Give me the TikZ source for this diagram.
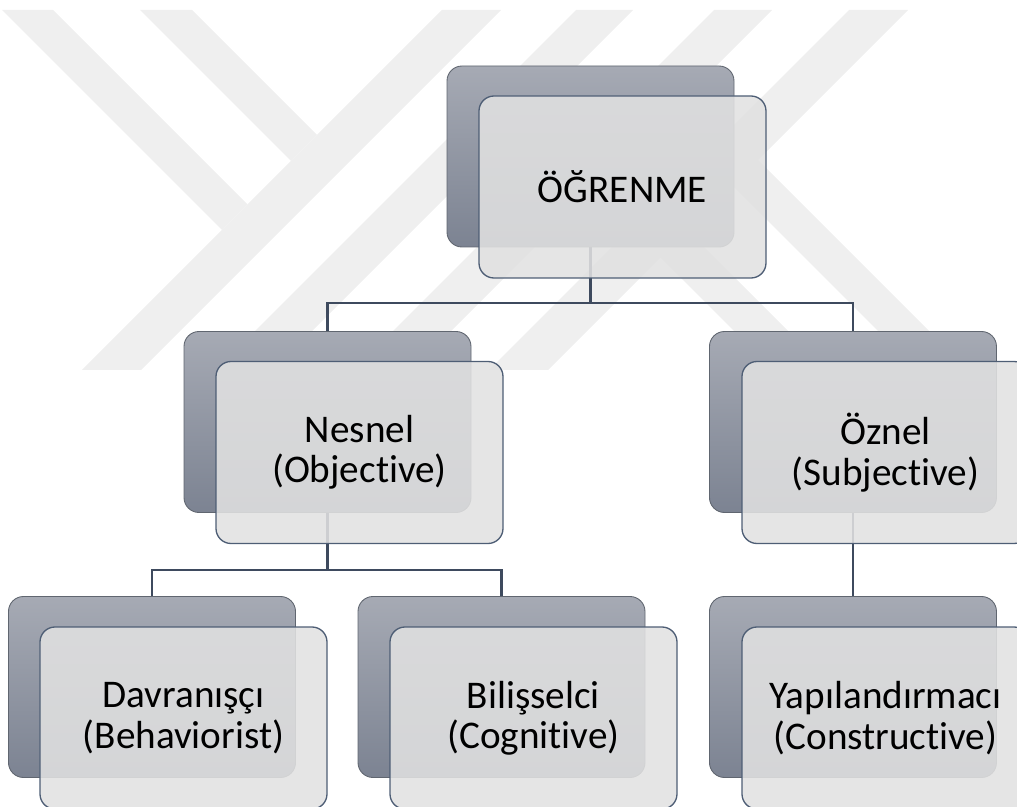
\documentclass[tikz,border=0pt]{standalone}
\usepackage{fontspec}
\setmainfont[Ligatures={NoCommon}]{Carlito}
\usetikzlibrary{backgrounds}
\definecolor{boxtop}{RGB}{166,170,180}
\definecolor{boxbottom}{RGB}{124,131,146}
\definecolor{boxedge}{RGB}{96,102,112}
\definecolor{frontfill}{RGB}{225,225,225}
\definecolor{frontedge}{RGB}{78,94,117}
\definecolor{linkcol}{RGB}{62,74,94}
\definecolor{wmark}{RGB}{239,239,239}
\begin{document}
\begin{tikzpicture}[
    backbox/.style={rectangle,rounded corners=0.3cm,minimum width=5.74cm,minimum height=3.62cm,inner sep=0pt,top color=boxtop,bottom color=boxbottom,draw=boxedge,line width=0.5pt},
    frontbox/.style={rectangle,rounded corners=0.3cm,minimum width=5.74cm,minimum height=3.64cm,inner sep=0pt,fill=frontfill,fill opacity=0.88,text opacity=1,draw=frontedge,draw opacity=1,line width=0.75pt,align=center,font=\fontsize{22.3}{23}\selectfont},
    link/.style={draw=linkcol,line width=1.15pt}
]
            \useasboundingbox (0,0) rectangle (20.34,-16.14);
            \clip (0,0) rectangle (20.34,-16.14);
            \node[backbox] (ogrb) at (11.81,-3.13) {};
            \node[frontbox] (ogr) at (12.45,-3.74) {ÖĞRENME};
            \node[backbox] (nesb) at (6.55,-8.44) {};
            \node[frontbox] (nes) at (7.19,-9.05) {Nesnel\\(Objective)};
            \node[backbox] (ozb) at (17.06,-8.44) {};
            \node[frontbox] (oz) at (17.71,-9.05) {Öznel\\(Subjective)};
            \node[backbox] (davb) at (3.04,-13.74) {};
            \node[frontbox] (dav) at (3.67,-14.36) {Davranışçı\\(Behaviorist)};
            \node[backbox] (bilb) at (10.03,-13.74) {};
            \node[frontbox] (bil) at (10.67,-14.36) {Bilişselci\\(Cognitive)};
            \node[backbox] (yapb) at (17.06,-13.74) {};
            \node[frontbox] (yap) at (17.71,-14.36) {Yapılandırmacı\\(Constructive)};
            \begin{scope}[on background layer]
                \fill[wmark] (0.04,-0.2) -- (1.06,-0.2) -- (4.95,-4.09) -- (4.44,-4.6) -- cycle;
                \fill[wmark] (2.8,-0.2) -- (3.84,-0.2) -- (6.34,-2.7) -- (5.82,-3.22) -- cycle;
                \fill[wmark] (8.84,-0.2) -- (10.02,-0.2) -- (2.82,-7.4) -- (1.64,-7.4) -- cycle;
                \fill[wmark] (11.52,-0.2) -- (12.66,-0.2) -- (5.46,-7.4) -- (4.32,-7.4) -- cycle;
                \fill[wmark] (14.28,-0.2) -- (15.44,-0.2) -- (8.24,-7.4) -- (7.08,-7.4) -- cycle;
                \fill[wmark] (16.98,-0.2) -- (18.16,-0.2) -- (10.96,-7.4) -- (9.78,-7.4) -- cycle;
                \fill[wmark] (13.2,-5.14) -- (13.74,-4.6) -- (16.54,-7.4) -- (15.46,-7.4) -- cycle;
                \fill[wmark] (14.65,-3.71) -- (15.16,-3.2) -- (19.36,-7.4) -- (18.34,-7.4) -- cycle;
                \draw[link] (ogrb.south) -- ++(0,-1.12);
                \draw[link] (nesb.north) |- ([yshift=-1.12cm]ogrb.south) -| (ozb.north);
                \draw[link] (nesb.south) -- ++(0,-1.14);
                \draw[link] (davb.north) |- ([yshift=-1.14cm]nesb.south) -| (bilb.north);
                \draw[link] (ozb.south) -- (yapb.north);
            \end{scope}
        \end{tikzpicture}
\end{document}
